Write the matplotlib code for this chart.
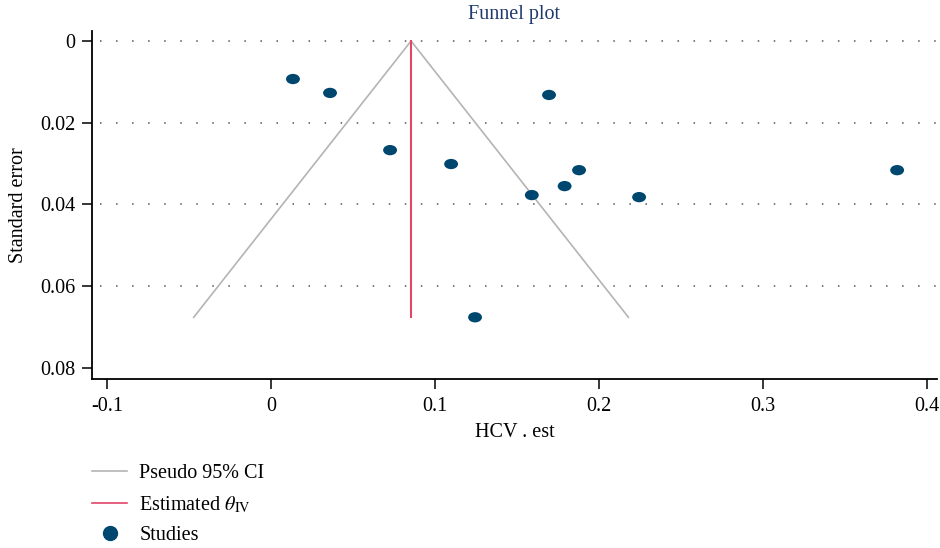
import matplotlib
matplotlib.use("Agg")
import matplotlib.pyplot as plt
import numpy as np
from matplotlib.path import Path
from matplotlib.transforms import Affine2D
from matplotlib.lines import Line2D

plt.rcParams['font.family'] = ['Liberation Serif', 'DejaVu Serif']
plt.rcParams['mathtext.fontset'] = 'stix'

# Data
effect = [0.0134, 0.036, 0.0726, 0.1098, 0.1244, 0.1695, 0.159, 0.179, 0.1878, 0.2244, 0.3817]
std_err = [0.0093, 0.0127, 0.0267, 0.0301, 0.0676, 0.0132, 0.0377, 0.0355, 0.0316, 0.0382, 0.0316]
theta_iv = 0.0854
x_ticks = [-0.1, 0, 0.1, 0.2, 0.3, 0.4]
x_ticklabels = ['-0.1', '0', '0.1', '0.2', '0.3', '0.4']
y_ticks = [0, 0.02, 0.04, 0.06, 0.08]
y_ticklabels = ['0', '0.02', '0.04', '0.06', '0.08']
grid_levels = [0, 0.02, 0.04, 0.06]

fig = plt.figure(figsize=(9.4, 5.48), dpi=100)
ax = fig.add_axes([92/940, 1-379/548, (937-92)/940, (379-31)/548])

pt_color = '#004770'
ci_color = '#b4b4b4'
est_color = '#e2466a'
fs = 14.5

# grid
for g in grid_levels:
    ax.axhline(g, color='#555555', lw=1.1, ls=(0, (1, 9.5)), xmin=0.01, zorder=0)

se_max = max(std_err)
ax.plot([theta_iv - 1.96*se_max, theta_iv, theta_iv + 1.96*se_max], [se_max, 0, se_max],
        color=ci_color, lw=1.2, zorder=1)
ax.plot([theta_iv, theta_iv], [0, se_max], color=est_color, lw=1.5, zorder=2)

ell = Path.unit_circle().transformed(Affine2D().scale(1.35, 1.0))
ax.scatter(effect, std_err, marker=ell, s=100, color=pt_color, edgecolors='none', zorder=3)

ax.set_xlim(-0.1091, 0.406)
ax.set_ylim(0.0827, -0.00245)
ax.set_xticks(x_ticks)
ax.set_xticklabels(x_ticklabels)
ax.set_yticks(y_ticks)
ax.set_yticklabels(y_ticklabels)
ax.tick_params(axis='both', direction='out', length=7, width=1.1, labelsize=fs, colors='black', pad=5)
ax.tick_params(axis='x', pad=6)
for s in ['top', 'right']:
    ax.spines[s].set_visible(False)
for s in ['left', 'bottom']:
    ax.spines[s].set_linewidth(1.3)

ax.set_xlabel('HCV . est', fontsize=fs, labelpad=5)
ax.set_ylabel('Standard error', fontsize=fs, labelpad=9)
fig.text(514/940, 1-15/548, 'Funnel plot', ha='center', va='center', fontsize=fs, color='#1f3a6e')

handles = [Line2D([], [], color=ci_color, lw=1.2),
           Line2D([], [], color=est_color, lw=1.2),
           Line2D([], [], color=pt_color, marker='o', ls='none', markersize=10)]
labels = ['Pseudo 95% CI', r'Estimated $\theta_{\mathrm{IV}}$', 'Studies']
fig.legend(handles, labels, loc='upper left', bbox_to_anchor=(92/940, 1-464/548),
           frameon=False, fontsize=fs, handlelength=1.75, handletextpad=0.6,
           labelspacing=0.55, borderpad=0, borderaxespad=0)

fig.savefig('out.png', dpi=100)
